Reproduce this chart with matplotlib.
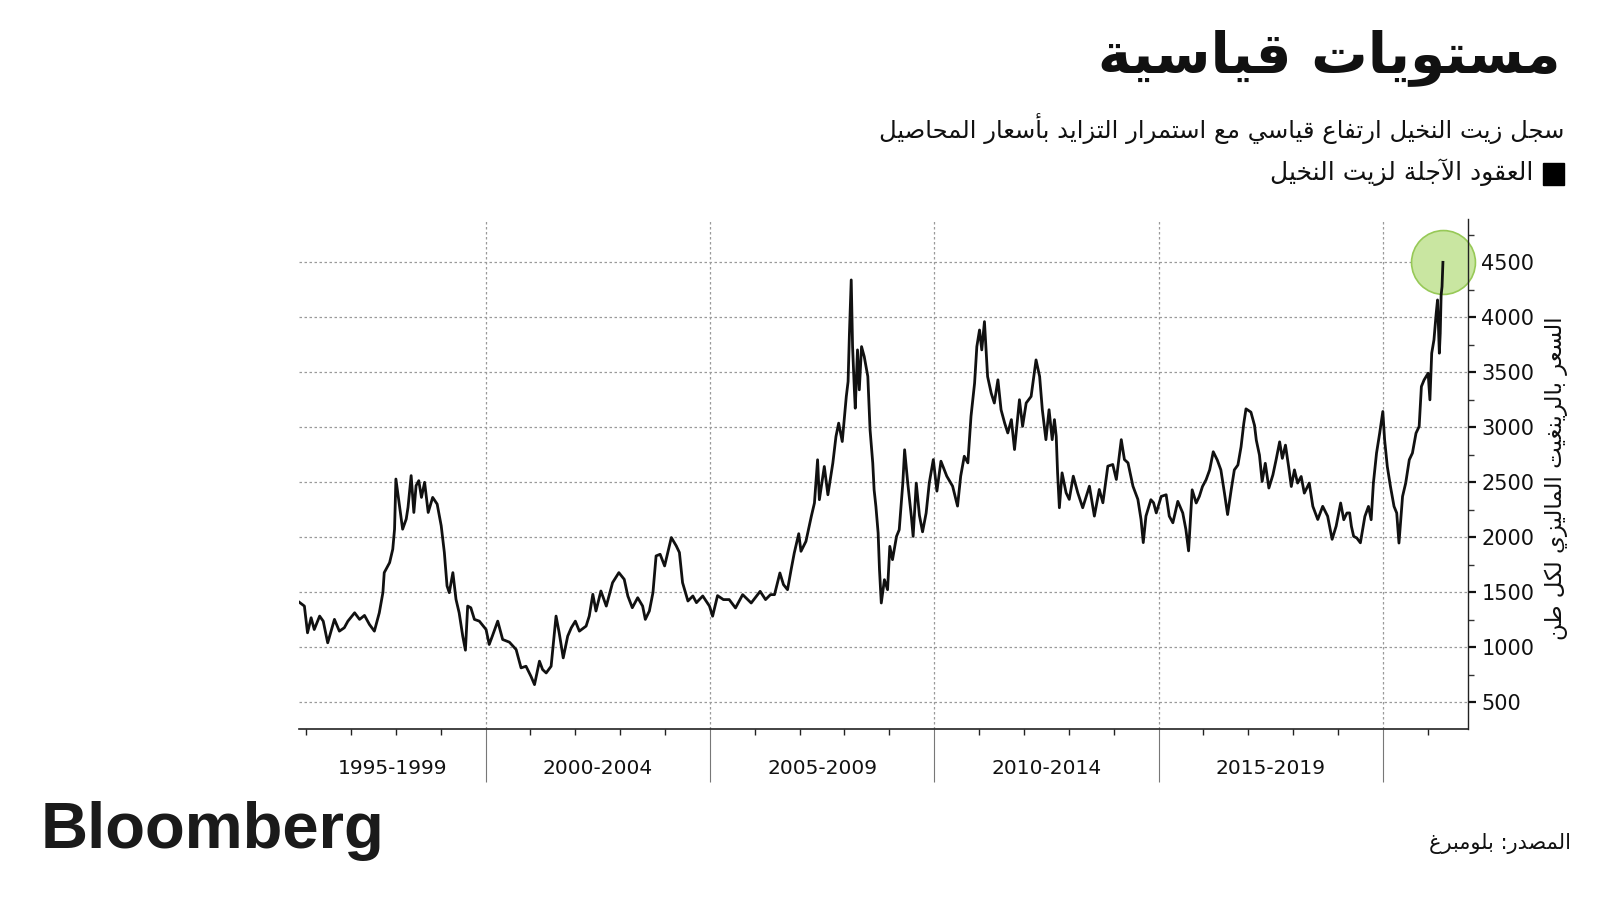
import matplotlib
matplotlib.use("Agg")
import matplotlib.pyplot as plt
import matplotlib.patches as mpatches

# ---------------- data ----------------
years = [
    1995.83, 1995.96, 1996.03, 1996.11, 1996.18, 1996.30, 1996.38, 1996.48, 1996.63, 1996.74,
    1996.85, 1996.93, 1997.08, 1997.19, 1997.30, 1997.41, 1997.52, 1997.63, 1997.71, 1997.74,
    1997.86, 1997.93, 1997.97, 1998.00, 1998.08, 1998.15, 1998.23, 1998.27, 1998.34, 1998.40,
    1998.45, 1998.51, 1998.57, 1998.64, 1998.72, 1998.82, 1998.92, 1999.01, 1999.08, 1999.14,
    1999.19, 1999.27, 1999.34, 1999.41, 1999.49, 1999.55, 1999.60, 1999.67, 1999.75, 1999.86,
    2000.01, 2000.08, 2000.15, 2000.27, 2000.38, 2000.53, 2000.68, 2000.79, 2000.90, 2001.01,
    2001.09, 2001.20, 2001.27, 2001.35, 2001.46, 2001.57, 2001.64, 2001.73, 2001.83, 2001.91,
    2002.00, 2002.09, 2002.24, 2002.31, 2002.39, 2002.46, 2002.57, 2002.69, 2002.83, 2002.97,
    2003.09, 2003.17, 2003.27, 2003.39, 2003.50, 2003.56, 2003.65, 2003.73, 2003.80, 2003.89,
    2003.99, 2004.14, 2004.25, 2004.32, 2004.39, 2004.51, 2004.62, 2004.70, 2004.84, 2004.99,
    2005.06, 2005.17, 2005.30, 2005.43, 2005.57, 2005.73, 2005.92, 2006.12, 2006.24, 2006.35,
    2006.44, 2006.56, 2006.64, 2006.73, 2006.81, 2006.88, 2006.98, 2007.03, 2007.14, 2007.26,
    2007.33, 2007.40, 2007.44, 2007.55, 2007.63, 2007.74, 2007.81, 2007.87, 2007.95, 2008.04,
    2008.08, 2008.11, 2008.15, 2008.18, 2008.22, 2008.24, 2008.29, 2008.33, 2008.38, 2008.44,
    2008.52, 2008.57, 2008.63, 2008.66, 2008.70, 2008.75, 2008.78, 2008.82, 2008.89, 2008.96,
    2009.01, 2009.07, 2009.16, 2009.22, 2009.30, 2009.34, 2009.41, 2009.49, 2009.53, 2009.60,
    2009.67, 2009.74, 2009.82, 2009.89, 2009.98, 2010.06, 2010.15, 2010.28, 2010.41, 2010.52,
    2010.59, 2010.67, 2010.75, 2010.82, 2010.90, 2010.95, 2011.01, 2011.06, 2011.12, 2011.19,
    2011.27, 2011.34, 2011.42, 2011.49, 2011.57, 2011.64, 2011.72, 2011.79, 2011.90, 2011.97,
    2012.05, 2012.16, 2012.27, 2012.35, 2012.41, 2012.49, 2012.56, 2012.63, 2012.68, 2012.72,
    2012.75, 2012.79, 2012.85, 2012.94, 2013.01, 2013.10, 2013.20, 2013.31, 2013.46, 2013.57,
    2013.68, 2013.76, 2013.87, 2013.98, 2014.06, 2014.17, 2014.24, 2014.32, 2014.43, 2014.54,
    2014.61, 2014.66, 2014.72, 2014.83, 2014.89, 2014.95, 2015.06, 2015.17, 2015.24, 2015.32,
    2015.43, 2015.54, 2015.61, 2015.67, 2015.75, 2015.84, 2015.91, 2015.98, 2016.06, 2016.14,
    2016.22, 2016.31, 2016.39, 2016.47, 2016.54, 2016.62, 2016.69, 2016.77, 2016.84, 2016.90,
    2016.95, 2017.06, 2017.14, 2017.18, 2017.25, 2017.31, 2017.38, 2017.46, 2017.55, 2017.62,
    2017.70, 2017.76, 2017.83, 2017.90, 2017.96, 2018.03, 2018.10, 2018.18, 2018.25, 2018.36,
    2018.44, 2018.55, 2018.66, 2018.77, 2018.87, 2018.96, 2019.06, 2019.13, 2019.20, 2019.26,
    2019.30, 2019.35, 2019.42, 2019.50, 2019.60, 2019.68, 2019.74, 2019.79, 2019.86, 2019.93,
    2020.00, 2020.04, 2020.10, 2020.17, 2020.25, 2020.31, 2020.36, 2020.44, 2020.51, 2020.59,
    2020.66, 2020.74, 2020.81, 2020.86, 2020.92, 2021.01, 2021.05, 2021.09, 2021.14, 2021.19,
    2021.22, 2021.26, 2021.28, 2021.30, 2021.32, 2021.34,
]
prices = [
    1415, 1375, 1132, 1269, 1162, 1284, 1238, 1041, 1254, 1147,
    1178, 1238, 1314, 1254, 1290, 1208, 1147, 1314, 1497, 1679,
    1770, 1892, 2074, 2530, 2287, 2074, 2166, 2272, 2561, 2226,
    2470, 2515, 2363, 2500, 2226, 2363, 2302, 2105, 1862, 1558,
    1497, 1679, 1436, 1314, 1102, 974, 1375, 1360, 1254, 1238,
    1162, 1026, 1102, 1238, 1071, 1047, 980, 813, 828, 737,
    661, 874, 798, 767, 828, 1284, 1132, 904, 1102, 1178,
    1238, 1147, 1193, 1284, 1482, 1330, 1512, 1375, 1588, 1679,
    1618, 1467, 1360, 1451, 1375, 1254, 1330, 1497, 1831, 1846,
    1740, 1998, 1922, 1862, 1588, 1421, 1467, 1406, 1467, 1375,
    1283, 1470, 1434, 1434, 1358, 1479, 1403, 1509, 1434, 1479,
    1479, 1676, 1570, 1524, 1706, 1857, 2033, 1873, 1963, 2190,
    2312, 2705, 2342, 2644, 2387, 2675, 2917, 3038, 2871, 3280,
    3416, 3855, 4340, 3734, 3341, 3174, 3704, 3341, 3734, 3643,
    3462, 2977, 2675, 2433, 2281, 2039, 1706, 1403, 1615, 1524,
    1918, 1797, 2009, 2069, 2493, 2796, 2493, 2190, 2009, 2493,
    2200, 2050, 2221, 2495, 2707, 2420, 2692, 2556, 2465, 2284,
    2556, 2737, 2677, 3100, 3402, 3734, 3885, 3704, 3961, 3462,
    3311, 3221, 3432, 3160, 3039, 2949, 3070, 2798, 3251, 3009,
    3221, 3281, 3613, 3462, 3160, 2888, 3160, 2888, 3070, 2918,
    2586, 2269, 2586, 2405, 2345, 2556, 2405, 2269, 2465, 2193,
    2435, 2314, 2647, 2662, 2526, 2888, 2707, 2677, 2465, 2345,
    2163, 1952, 2193, 2342, 2314, 2222, 2372, 2387, 2192, 2132,
    2327, 2222, 2072, 1877, 2432, 2312, 2372, 2462, 2523, 2613,
    2778, 2703, 2613, 2402, 2207, 2432, 2613, 2658, 2823, 3033,
    3168, 3138, 3018, 2883, 2748, 2508, 2673, 2448, 2568, 2703,
    2868, 2718, 2838, 2643, 2462, 2613, 2493, 2553, 2402, 2493,
    2282, 2162, 2282, 2192, 1982, 2102, 2312, 2160, 2221, 2222,
    2100, 2009, 1994, 1950, 2190, 2281, 2160, 2493, 2766, 2947,
    3144, 2887, 2644, 2463, 2281, 2221, 1948, 2372, 2493, 2705,
    2766, 2947, 3008, 3371, 3431, 3492, 3250, 3674, 3795, 4037,
    4158, 3674, 3855, 4203, 4279, 4500,
]
y_ticks = [500, 1000, 1500, 2000, 2500, 3000, 3500, 4000, 4500]
y_minor = [750, 1250, 1750, 2250, 2750, 3250, 3750, 4250, 4750]
period_starts = [1995, 2000, 2005, 2010, 2015, 2020]
period_labels = ["1995-1999", "2000-2004", "2005-2009", "2010-2014", "2015-2019", ""]
year_ticks = list(range(1996, 2022))

title_text = "مستويات قياسية"
subtitle_text = "سجل زيت النخيل ارتفاع قياسي مع استمرار التزايد بأسعار المحاصيل"
legend_text = "العقود الآجلة لزيت النخيل"
ylabel_text = "السعر بالرينغيت الماليزي لكل طن"
source_text = "المصدر: بلومبرغ"

# ---------------- minimal Arabic shaping (presentation forms + RTL) -------
_BASE = {
    0x0621: (0xFE80, 1), 0x0622: (0xFE81, 2), 0x0623: (0xFE83, 2), 0x0624: (0xFE85, 2),
    0x0625: (0xFE87, 2), 0x0626: (0xFE89, 4), 0x0627: (0xFE8D, 2), 0x0628: (0xFE8F, 4),
    0x0629: (0xFE93, 2), 0x062A: (0xFE95, 4), 0x062B: (0xFE99, 4), 0x062C: (0xFE9D, 4),
    0x062D: (0xFEA1, 4), 0x062E: (0xFEA5, 4), 0x062F: (0xFEA9, 2), 0x0630: (0xFEAB, 2),
    0x0631: (0xFEAD, 2), 0x0632: (0xFEAF, 2), 0x0633: (0xFEB1, 4), 0x0634: (0xFEB5, 4),
    0x0635: (0xFEB9, 4), 0x0636: (0xFEBD, 4), 0x0637: (0xFEC1, 4), 0x0638: (0xFEC5, 4),
    0x0639: (0xFEC9, 4), 0x063A: (0xFECD, 4), 0x0641: (0xFED1, 4), 0x0642: (0xFED5, 4),
    0x0643: (0xFED9, 4), 0x0644: (0xFEDD, 4), 0x0645: (0xFEE1, 4), 0x0646: (0xFEE5, 4),
    0x0647: (0xFEE9, 4), 0x0648: (0xFEED, 2), 0x0649: (0xFEEF, 2), 0x064A: (0xFEF1, 4),
}
_LAMALEF = {0x0622: 0xFEF5, 0x0623: 0xFEF7, 0x0625: 0xFEF9, 0x0627: 0xFEFB}


def shape_ar(text):
    toks = []  # (base codepoint, nforms) or (char, 0) for non-arabic
    i = 0
    while i < len(text):
        c = ord(text[i])
        if c == 0x0644 and i + 1 < len(text) and ord(text[i + 1]) in _LAMALEF:
            toks.append((_LAMALEF[ord(text[i + 1])], 2))
            i += 2
            continue
        if c in _BASE:
            toks.append(_BASE[c])
        else:
            toks.append((text[i], 0))
        i += 1
    out = []
    for k, (b, n) in enumerate(toks):
        if n == 0:
            out.append(b)
            continue
        prev = k > 0 and toks[k - 1][1] == 4
        nxt = n == 4 and k + 1 < len(toks) and toks[k + 1][1] >= 2
        if n == 1:
            off = 0
        elif prev and nxt:
            off = 3
        elif nxt:
            off = 2
        elif prev:
            off = 1
        else:
            off = 0
        out.append(chr(b + off))
    return "".join(reversed(out))


# ---------------- figure ----------------
W, H = 1600, 900
fig = plt.figure(figsize=(16, 9), dpi=100)
fig.patch.set_facecolor("white")

x0, x1, ytop, ybot = 299, 1467.6, 219, 728.5
ax = fig.add_axes([x0 / W, 1 - ybot / H, (x1 - x0) / W, (ybot - ytop) / H])

ax.plot(years, prices, color="#111111", lw=2.0, zorder=3)
ax.plot([years[-1]], [prices[-1]], "o", ms=46, mfc="#c9e6a1", mec="#97c957", mew=1.2,
        zorder=2, clip_on=False)

ax.set_xlim(1995.84, 2021.89)
ax.set_ylim(262, 4894)

for s in ("top", "left"):
    ax.spines[s].set_visible(False)
ax.spines["right"].set_color("#222222")
ax.spines["bottom"].set_color("#222222")
ax.spines["right"].set_linewidth(1.0)
ax.spines["bottom"].set_linewidth(1.2)

ax.yaxis.tick_right()
ax.set_yticks(y_ticks)
ax.set_yticks(y_minor, minor=True)
ax.set_yticklabels([str(v) for v in y_ticks])
ax.tick_params(axis="y", which="major", length=6, width=1.6, pad=4, labelsize=15,
               colors="#111111", direction="out")
ax.tick_params(axis="y", which="minor", length=4, width=1.0, colors="#333333")

ax.set_xticks(period_starts[1:])
ax.set_xticks(year_ticks, minor=True)
ax.set_xticklabels([])
ax.tick_params(axis="x", which="major", length=38, width=0.8, color="#777777")
ax.tick_params(axis="x", which="minor", length=4, width=1.0, color="#222222")

ax.grid(True, axis="both", which="major", color="#9a9a9a", lw=0.9, ls=(0, (2, 2)))
ax.set_axisbelow(True)

xl0, xl1 = ax.get_xlim()
lab_y = -(768 - ybot) / (ybot - ytop)
for s, lab in zip(period_starts, period_labels):
    if not lab:
        continue
    c = (max(s, xl0) + min(s + 5, xl1)) / 2
    ax.text(c, lab_y, lab, transform=ax.get_xaxis_transform(), ha="center", va="center",
            fontsize=14.5, color="#111111")

AR = ["DejaVu Sans"]
fig.text(1561 / W, 1 - 58 / H, shape_ar(title_text), ha="right", va="center",
         fontsize=40.5, fontweight="bold", family=AR, color="#111111")
fig.text(1564 / W, 1 - 129 / H, shape_ar(subtitle_text), ha="right", va="center",
         fontsize=17.5, family=AR, color="#111111")
fig.add_artist(mpatches.Rectangle((1543 / W, 1 - 185 / H), 21 / W, 22 / H,
                                  transform=fig.transFigure, color="black"))
fig.text(1533 / W, 1 - 172 / H, shape_ar(legend_text), ha="right", va="center",
         fontsize=18, family=AR, color="#111111")
fig.text(1556 / W, 1 - 478 / H, shape_ar(ylabel_text), ha="center", va="center",
         rotation=90, fontsize=16.5, family=AR, color="#111111")
fig.text(1571 / W, 1 - 843 / H, shape_ar(source_text), ha="right", va="center",
         fontsize=15, family=AR, color="#111111")
fig.text(41 / W, 1 - 848 / H, "Bloomberg", ha="left", va="baseline", fontsize=47,
         fontweight="bold", family=["Liberation Sans", "DejaVu Sans"], color="#1a1a1a")

fig.savefig("out.png", dpi=100, facecolor="white")
